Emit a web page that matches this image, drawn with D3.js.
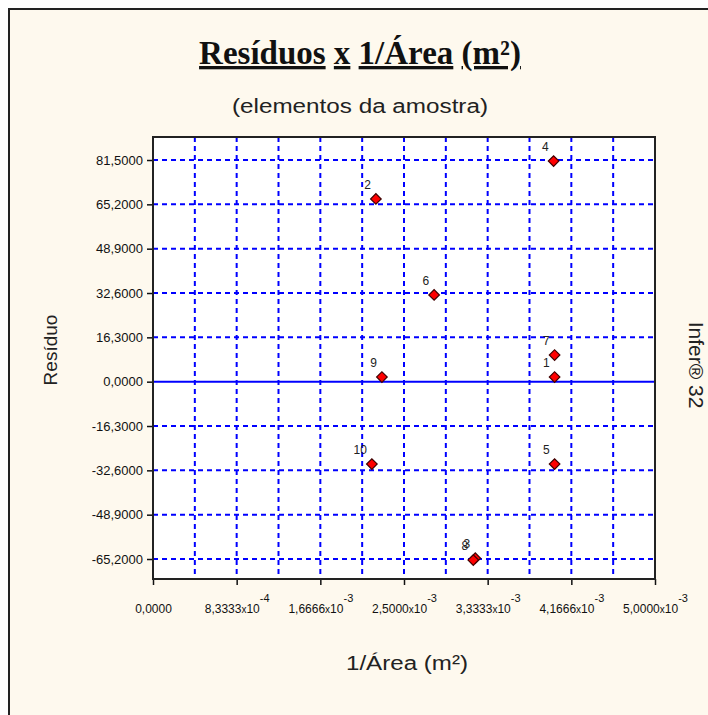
<!DOCTYPE html>
<html>
<head>
<meta charset="utf-8">
<script src="https://cdn.jsdelivr.net/npm/d3@7"></script>
<style>
    html, body { margin: 0; padding: 0; background: #ffffff; }
    svg text { font-family: "Liberation Sans", Arial, sans-serif; }
</style>
</head>
<body>
<div id="chart"></div>
<script>
    'use strict';

    // sample elements (point numbers)
    var pointIds = [1, 2, 3, 4, 5, 6, 7, 8, 9, 10];
    // 1/Area (m2)
    var invArea = [0.0040, 0.00222, 0.00321, 0.00399, 0.0040, 0.00280, 0.0040, 0.00319, 0.00228, 0.00218];
    // residuals
    var residuals = [1.7, 67.2, -64.9, 81.1, -30.3, 31.9, 9.8, -65.6, 1.7, -30.3];

    // axis ticks
    var yTickValues = [81.5, 65.2, 48.9, 32.6, 16.3, 0, -16.3, -32.6, -48.9, -65.2];
    var yTickLabels = ['81,5000', '65,2000', '48,9000', '32,6000', '16,3000', '0,0000',
        '-16,3000', '-32,6000', '-48,9000', '-65,2000'];
    var xTickValues = [0, 0.00083333, 0.00166666, 0.0025, 0.00333333, 0.00416666, 0.005];
    var xTickMantissa = ['0,0000', '8,3333', '1,6666', '2,5000', '3,3333', '4,1666', '5,0000'];
    var xTickExponent = ['', '-4', '-3', '-3', '-3', '-3', '-3'];
    var xGridValues = [0.00041666, 0.00083333, 0.00125, 0.00166666, 0.00208333, 0.0025,
        0.00291666, 0.00333333, 0.00375, 0.00416666, 0.00458333];

    var width = 708, height = 715;
    var plot = {left: 153, top: 137, right: 655, bottom: 579};

    var svg = d3.select('#chart')
        .append('svg')
        .attr('width', width)
        .attr('height', height);

    // panel background with border
    svg.append('rect')
        .attr('x', 9).attr('y', 9)
        .attr('width', width).attr('height', height)
        .attr('fill', '#fef9ee')
        .attr('stroke', '#222')
        .attr('stroke-width', 2);

    // title, words underlined one by one
    var title = svg.append('text')
        .attr('x', 360).attr('y', 64)
        .attr('text-anchor', 'middle')
        .style('font-family', '"Liberation Serif", "Times New Roman", serif')
        .style('font-weight', 'bold')
        .style('font-size', '33px')
        .attr('fill', '#111');
    ['Resíduos', ' ', 'x', ' ', '1/Área', ' ', '(m²)'].forEach(function (w) {
        title.append('tspan')
            .style('text-decoration', w === ' ' ? 'none' : 'underline')
            .text(w);
    });

    svg.append('text')
        .attr('x', 360).attr('y', 113)
        .attr('text-anchor', 'middle')
        .style('font-size', '20px')
        .attr('fill', '#222')
        .attr('textLength', 256)
        .attr('lengthAdjust', 'spacingAndGlyphs')
        .text('(elementos da amostra)');

    var x = d3.scaleLinear().domain([0, 0.005]).range([plot.left, plot.right]);
    var y = d3.scaleLinear().domain([-72.55, 89.96]).range([plot.bottom, plot.top]);

    // plot area
    svg.append('rect')
        .attr('x', plot.left).attr('y', plot.top)
        .attr('width', plot.right - plot.left)
        .attr('height', plot.bottom - plot.top)
        .attr('fill', '#ffffff');

    // grid
    var grid = svg.append('g');
    grid.selectAll('.vgrid')
        .data(xGridValues)
        .enter().append('line')
        .attr('x1', function (d) { return x(d); })
        .attr('x2', function (d) { return x(d); })
        .attr('y1', plot.top).attr('y2', plot.bottom)
        .attr('stroke', '#0000ff')
        .attr('stroke-width', 2)
        .attr('stroke-dasharray', '5,4');
    grid.selectAll('.hgrid')
        .data(yTickValues)
        .enter().append('line')
        .attr('x1', plot.left).attr('x2', plot.right)
        .attr('y1', function (d) { return y(d); })
        .attr('y2', function (d) { return y(d); })
        .attr('stroke', '#0000ff')
        .attr('stroke-width', 2)
        .attr('stroke-dasharray', function (d) { return d === 0 ? null : '5,4'; });

    // y axis
    var yAxis = svg.append('g')
        .attr('transform', 'translate(' + plot.left + ',0)')
        .call(d3.axisLeft(y)
            .tickValues(yTickValues)
            .tickSize(6)
            .tickPadding(4)
            .tickFormat(function (d, i) { return yTickLabels[i]; }));
    yAxis.select('.domain').remove();
    yAxis.selectAll('line').attr('stroke', '#111').attr('stroke-width', 1.5);
    yAxis.selectAll('text')
        .style('font-family', '"Liberation Sans", Arial, sans-serif')
        .style('font-size', '13px')
        .attr('fill', '#111');

    // x axis
    var xAxis = svg.append('g')
        .attr('transform', 'translate(0,' + plot.bottom + ')')
        .call(d3.axisBottom(x)
            .tickValues(xTickValues)
            .tickSize(6)
            .tickFormat(''));
    xAxis.select('.domain').remove();
    xAxis.selectAll('line').attr('stroke', '#111').attr('stroke-width', 1.5);
    xAxis.selectAll('.tick').each(function (d, i) {
        var t = d3.select(this).append('text')
            .attr('y', 34)
            .attr('text-anchor', 'middle')
            .attr('fill', '#111')
            .style('font-family', '"Liberation Sans", Arial, sans-serif')
            .style('font-size', '12px');
        if (xTickExponent[i] === '') {
            t.text(xTickMantissa[i]);
        } else {
            t.append('tspan').text(xTickMantissa[i]);
            t.append('tspan').style('font-size', '10px').text('x');
            t.append('tspan').text('10');
            t.append('tspan').attr('dy', -11).style('font-size', '11px').text(xTickExponent[i]);
        }
    });

    // frame
    svg.append('rect')
        .attr('x', plot.left).attr('y', plot.top)
        .attr('width', plot.right - plot.left)
        .attr('height', plot.bottom - plot.top)
        .attr('fill', 'none')
        .attr('stroke', '#222')
        .attr('stroke-width', 2);

    // points
    var pts = svg.append('g');
    pts.selectAll('.pt')
        .data(pointIds)
        .enter().append('path')
        .attr('d', d3.symbol().type(d3.symbolSquare).size(56))
        .attr('transform', function (d, i) {
            return 'translate(' + x(invArea[i]) + ',' + y(residuals[i]) + ') rotate(45)';
        })
        .attr('fill', '#ff0000')
        .attr('stroke', '#400000')
        .attr('stroke-width', 1.2);
    pts.selectAll('.lbl')
        .data(pointIds)
        .enter().append('text')
        .attr('x', function (d, i) { return x(invArea[i]) - 5; })
        .attr('y', function (d, i) { return y(residuals[i]) - 10; })
        .attr('text-anchor', 'end')
        .style('font-size', '12px')
        .attr('fill', '#222')
        .text(function (d) { return d; });

    // axis titles
    svg.append('text')
        .attr('transform', 'translate(57,350) rotate(-90)')
        .attr('text-anchor', 'middle')
        .style('font-size', '19px')
        .attr('fill', '#222')
        .text('Resíduo');

    svg.append('text')
        .attr('x', 407).attr('y', 670)
        .attr('text-anchor', 'middle')
        .style('font-size', '20px')
        .attr('fill', '#222')
        .attr('textLength', 122)
        .attr('lengthAdjust', 'spacingAndGlyphs')
        .text('1/Área (m²)');

    svg.append('text')
        .attr('transform', 'translate(689,365) rotate(90)')
        .attr('text-anchor', 'middle')
        .style('font-size', '21px')
        .attr('fill', '#222')
        .text('Infer® 32');
</script>
</body>
</html>
